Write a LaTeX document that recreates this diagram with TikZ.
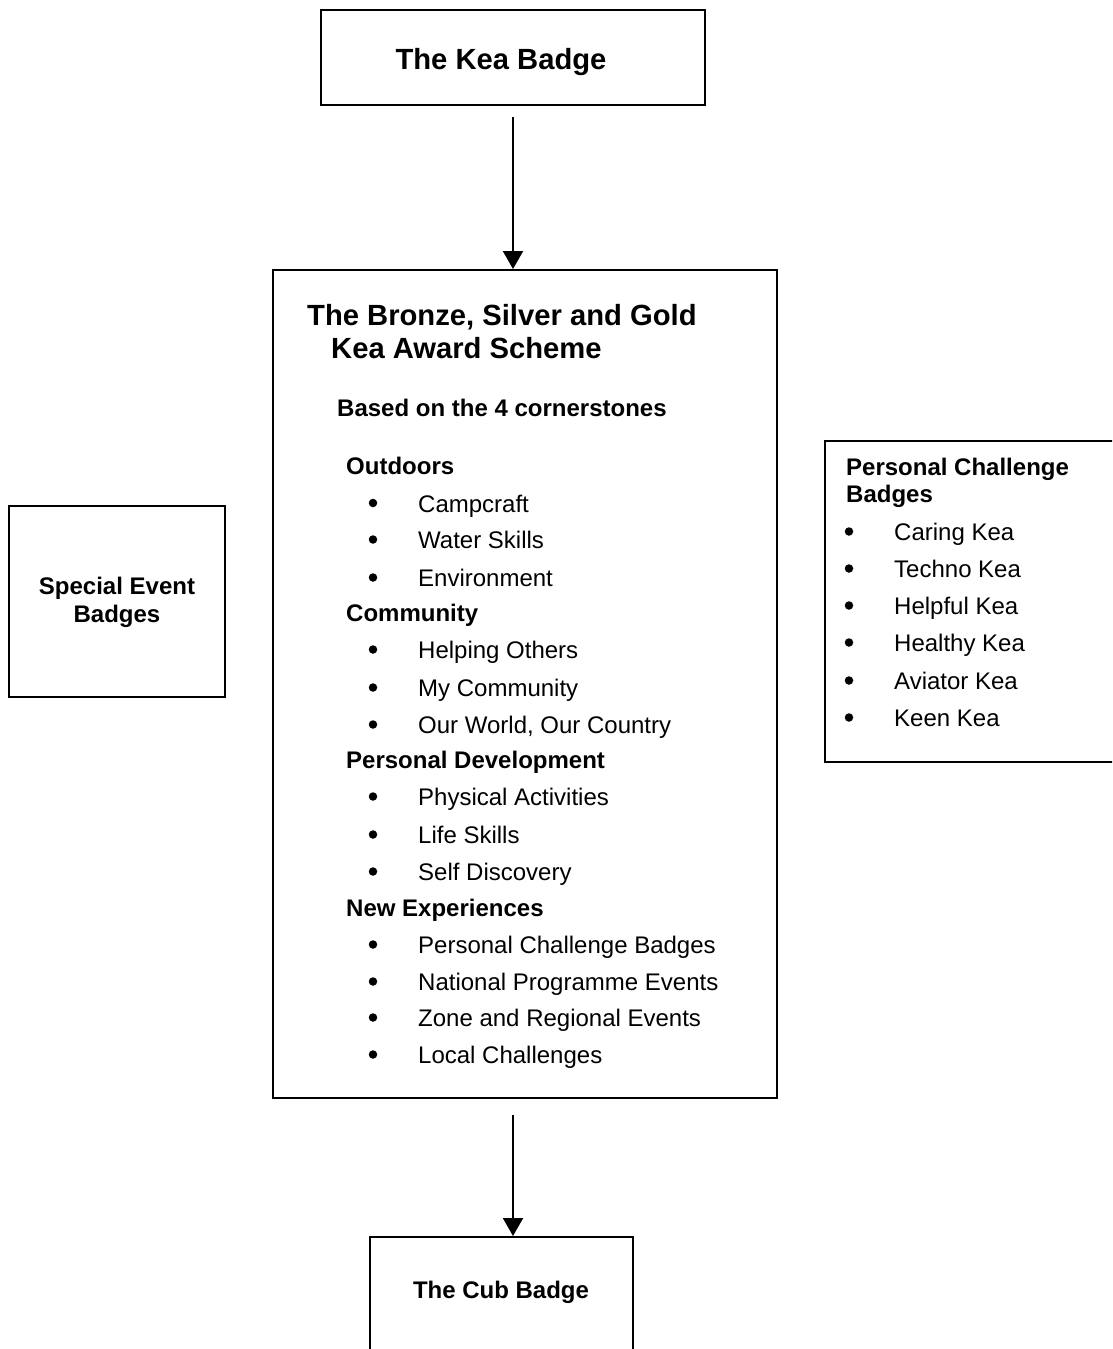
\documentclass[tikz,border=0pt]{standalone}
\usepackage{fontspec}
\setmainfont{Liberation Sans}
\usetikzlibrary{arrows.meta}
\begin{document}
\begin{tikzpicture}[x=1pt,y=-1pt,
  box/.style={draw,line width=2pt,rectangle,inner sep=0pt},
  big/.style={inner sep=0pt,anchor=base west,font=\fontsize{29.2}{34}\selectfont\bfseries},
  bhead/.style={inner sep=0pt,anchor=base west,font=\fontsize{24}{28}\selectfont\bfseries},
  item/.style={inner sep=0pt,anchor=base west,font=\fontsize{24}{28}\selectfont},
  bul/.style={circle,fill=black,inner sep=0pt,minimum size=8.5pt,yshift=9pt},
  arr/.style={line width=2pt,-{Triangle[width=20pt,length=18pt]}}]
\clip (0,0) rectangle (1112,1349);
\fill[white] (0,0) rectangle (1112,1349);
% boxes
\node[box,minimum width=384pt,minimum height=95pt] (kea) at (513,57.5) {};
\node[box,minimum width=504pt,minimum height=828pt] (main) at (525,684) {};
\node[box,minimum width=263pt,minimum height=163pt] (cub) at (501.5,1318.5) {};
\node[box,minimum width=216pt,minimum height=191pt] (spec) at (117,601.5) {};
\node[box,minimum width=375pt,minimum height=321pt] (pcb) at (1012.5,601.5) {};
% connectors
\coordinate (s1) at (513,117);
\coordinate (s2) at (513,1115);
\draw[arr] (s1) -- (s1 |- main.north);
\draw[arr] (s2) -- (s2 |- cub.north);
% texts
\node[big,anchor=base] (keat) at (501,69.5) {The Kea Badge};
\node[big] (m1) at (307,325) {The Bronze, Silver and Gold};
\node[big] (m2) at (331,358) {Kea Award Scheme};
\node[bhead] (m3) at (337,416) {Based on the 4 cornerstones};
\node[bhead] (h1) at (346,474.5) {Outdoors};
\node[bul] (b1) at (373,512) {}; \node[item] (i1) at (418,512) {Campcraft};
\node[bul] (b2) at (373,548.5) {}; \node[item] (i2) at (418,548.5) {Water Skills};
\node[bul] (b3) at (373,586.5) {}; \node[item] (i3) at (418,586.5) {Environment};
\node[bhead] (h2) at (346,621.5) {Community};
\node[bul] (b4) at (373,658.5) {}; \node[item] (i4) at (418,658.5) {Helping Others};
\node[bul] (b5) at (373,696.5) {}; \node[item] (i5) at (418,696.5) {My Community};
\node[bul] (b6) at (373,733.5) {}; \node[item] (i6) at (418,733.5) {Our World, Our Country};
\node[bhead] (h3) at (346,768.5) {Personal Development};
\node[bul] (b7) at (373,805.5) {}; \node[item] (i7) at (418,805.5) {Physical Activities};
\node[bul] (b8) at (373,843.5) {}; \node[item] (i8) at (418,843.5) {Life Skills};
\node[bul] (b9) at (373,880.5) {}; \node[item] (i9) at (418,880.5) {Self Discovery};
\node[bhead] (h4) at (346,916.5) {New Experiences};
\node[bul] (b10) at (373,953.5) {}; \node[item] (i10) at (418,953.5) {Personal Challenge Badges};
\node[bul] (b11) at (373,990.5) {}; \node[item] (i11) at (418,990.5) {National Programme Events};
\node[bul] (b12) at (373,1026.5) {}; \node[item] (i12) at (418,1026.5) {Zone and Regional Events};
\node[bul] (b13) at (373,1063.5) {}; \node[item] (i13) at (418,1063.5) {Local Challenges};
% special event
\node[bhead,anchor=base] (s1t) at (117,594.5) {Special Event};
\node[bhead,anchor=base] (s2t) at (117,622.5) {Badges};
% personal challenge badges
\node[bhead] (p1) at (846,475.5) {Personal Challenge};
\node[bhead] (p2) at (846,502.5) {Badges};
\node[bul] (pb1) at (849,540.5) {}; \node[item] (pi1) at (894,540.5) {Caring Kea};
\node[bul] (pb2) at (849,577.5) {}; \node[item] (pi2) at (894,577.5) {Techno Kea};
\node[bul] (pb3) at (849,614.5) {}; \node[item] (pi3) at (894,614.5) {Helpful Kea};
\node[bul] (pb4) at (849,651.5) {}; \node[item] (pi4) at (894,651.5) {Healthy Kea};
\node[bul] (pb5) at (849,689.5) {}; \node[item] (pi5) at (894,689.5) {Aviator Kea};
\node[bul] (pb6) at (849,726.5) {}; \node[item] (pi6) at (894,726.5) {Keen Kea};
% cub
\node[bhead,anchor=base] (cubt) at (501,1298.5) {The Cub Badge};
\end{tikzpicture}
\end{document}
